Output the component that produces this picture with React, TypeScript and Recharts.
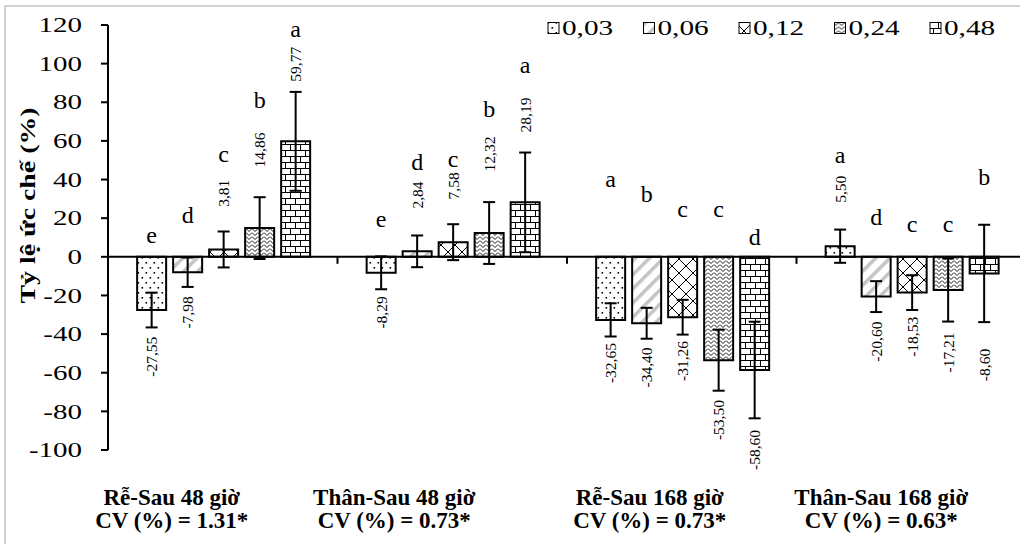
import React from 'react';
import { BarChart, Bar, XAxis, YAxis, ErrorBar, LabelList, ReferenceLine } from 'recharts';

// ---------- data ----------
const categories = ['Rễ-Sau 48 giờ', 'Thân-Sau 48 giờ', 'Rễ-Sau 168 giờ', 'Thân-Sau 168 giờ'];
const cvLabels = ['CV (%) = 1.31*', 'CV (%) = 0.73*', 'CV (%) = 0.73*', 'CV (%) = 0.63*'];
const concentrations = ['0,03', '0,06', '0,12', '0,24', '0,48'];

const s003 = [-27.55, -8.29, -32.65, 5.5];
const s006 = [-7.98, 2.84, -34.4, -20.6];
const s012 = [3.81, 7.58, -31.26, -18.53];
const s024 = [14.86, 12.32, -53.5, -17.21];
const s048 = [59.77, 28.19, -58.6, -8.6];

const e003 = [9.0, 8.5, 8.6, 8.6];
const e006 = [7.6, 8.2, 8.0, 8.0];
const e012 = [9.3, 9.3, 9.0, 9.0];
const e024 = [16.0, 16.0, 15.8, 16.3];
const e048 = [25.6, 25.8, 25.0, 25.2];

const l003 = ['e', 'e', 'a', 'a'];
const l006 = ['d', 'd', 'b', 'd'];
const l012 = ['c', 'c', 'c', 'c'];
const l024 = ['b', 'b', 'c', 'c'];
const l048 = ['a', 'a', 'd', 'b'];

// where the significance letters sit (value on the y axis)
const la003 = [7.1, 15.6, 36.3, 48.4];
const la006 = [17.3, 44.9, 28.5, 16.5];
const la012 = [49.2, 46.6, 20.8, 13.0];
const la024 = [77.0, 72.5, 20.8, 13.0];
const la048 = [113.8, 95.1, 6.1, 37.2];

// where the rotated value labels are centred (value on the y axis)
const va003 = [-51.7, -28.8, -55.0, 35.0];
const va006 = [-28.8, 32.0, -57.3, -43.9];
const va012 = [32.9, 36.7, -53.9, -41.4];
const va024 = [55.3, 53.2, -84.5, -49.5];
const va048 = [99.7, 73.4, -100.0, -56.0];

const yTicks = [-100, -80, -60, -40, -20, 0, 20, 40, 60, 80, 100, 120];

const seriesValues = [s003, s006, s012, s024, s048];
const seriesErrors = [e003, e006, e012, e024, e048];
const seriesLetters = [l003, l006, l012, l024, l048];
const letterAnchors = [la003, la006, la012, la024, la048];
const valueAnchors = [va003, va006, va012, va024, va048];

const data = categories.map((c, i) => {
  const row: any = { category: c };
  seriesValues.forEach((s, k) => {
    row['v' + k] = s[i];
    row['e' + k] = seriesErrors[k][i];
  });
  return row;
});

// ---------- layout constants ----------
const SERIF = '"Liberation Serif", "Times New Roman", serif';
const LABEL_DX = [-51, -58, -32, -30];

const fmt = (v: number) => v.toFixed(2).replace('.', ',');

const Patterns = () => (
  <svg width="0" height="0" style={{ position: 'absolute' }}>
    <defs>
      <pattern id="pat0" width="8" height="10" patternUnits="userSpaceOnUse">
        <rect width="8" height="10" fill="#fff" />
        <rect x="1.5" y="2" width="1.6" height="1.6" fill="#000" />
        <rect x="5.5" y="7" width="1.6" height="1.6" fill="#000" />
      </pattern>
      <pattern id="pat1" width="10" height="10" patternUnits="userSpaceOnUse" patternTransform="rotate(45)">
        <rect width="10" height="10" fill="#fff" />
        <rect x="0" y="0" width="3.5" height="10" fill="#c4c4c4" />
      </pattern>
      <pattern id="pat2" width="14" height="14" patternUnits="userSpaceOnUse">
        <rect width="14" height="14" fill="#fff" />
        <path d="M0 14 L14 0 M0 0 L14 14" stroke="#000" strokeWidth="1" fill="none" />
      </pattern>
      <pattern id="pat3" width="6" height="4" patternUnits="userSpaceOnUse">
        <rect width="6" height="4" fill="#fff" />
        <path d="M0 0.5 L3 3.5 L6 0.5" stroke="#000" strokeWidth="0.9" fill="none" />
      </pattern>
      <pattern id="pat4" width="10" height="12" patternUnits="userSpaceOnUse">
        <rect width="10" height="12" fill="#fff" />
        <path d="M0 0.5 H10 M0 6.5 H10 M0.5 0 V6 M5.5 6 V12" stroke="#000" strokeWidth="1" fill="none" />
      </pattern>
    </defs>
  </svg>
);

const makeAnno = (k: number) => (p: any) => {
  const index = p.index;
  if (index === undefined || index === null) return null;
  const vb = p.viewBox || {};
  const x = Number(vb.x ?? p.x);
  const y = Number(vb.y ?? p.y);
  const w = Number(vb.width ?? p.width);
  const h = Number(vb.height ?? p.height);
  const v = seriesValues[k][index];
  const top = Math.min(y, y + h);
  const bottom = Math.max(y, y + h);
  const zeroY = v >= 0 ? bottom : top;
  const per = (bottom - top) / Math.abs(v);
  const px = (a: number) => zeroY - a * per;
  const cx = x + w / 2;
  const vy = px(valueAnchors[k][index]);
  const ly = px(letterAnchors[k][index]);
  return (
    <g>
      <text
        transform={`translate(${cx},${vy}) rotate(-90)`}
        textAnchor="middle"
        dominantBaseline="central"
        fontFamily={SERIF}
        fontSize={15.5}
        fill="#000"
      >
        {fmt(v)}
      </text>
      <text x={cx} y={ly} textAnchor="middle" fontFamily={SERIF} fontSize={24} fill="#000">
        {seriesLetters[k][index]}
      </text>
    </g>
  );
};

const YTick = (p: any) => (
  <text
    transform={`translate(${p.x},${p.y}) scale(1.38,1)`}
    textAnchor="end"
    dy="0.34em"
    fontFamily={SERIF}
    fontSize={21}
    fill="#000"
  >
    {p.payload.value}
  </text>
);

const CatTick = (p: any) => {
  const i = p.payload?.index ?? p.index ?? 0;
  const cx = p.x + LABEL_DX[i];
  return (
    <g>
      <text x={cx} y={p.y + 55} textAnchor="middle" fontFamily={SERIF} fontWeight="bold" fontSize={23} fill="#000">
        {p.payload.value}
      </text>
      <text x={cx} y={p.y + 78} textAnchor="middle" fontFamily={SERIF} fontWeight="bold" fontSize={23} fill="#000">
        {cvLabels[i]}
      </text>
    </g>
  );
};

const ZeroLine = (p: any) => {
  const { x1, y1, x2, y2 } = p;
  const n = categories.length;
  const ticks = [];
  for (let i = 1; i < n; i++) {
    const tx = x1 + (i * (x2 - x1)) / n;
    ticks.push(<line key={i} x1={tx} x2={tx} y1={y1} y2={y1 + 7} stroke="#000" strokeWidth={2} />);
  }
  return (
    <g>
      <line x1={x1} y1={y1} x2={x2} y2={y2} stroke="#000" strokeWidth={2} />
      {ticks}
    </g>
  );
};

const TitleLabel = (p: any) => {
  const vb = p.viewBox || { y: 25, height: 425 };
  return (
    <text
      transform={`translate(27,${vb.y + vb.height / 2 - 32}) rotate(-90)`}
      textAnchor="middle"
      dominantBaseline="central"
      fontFamily={SERIF}
      fontWeight="bold"
      fontSize={22}
      textLength={196}
      lengthAdjust="spacingAndGlyphs"
      fill="#000"
    >
      Tỷ lệ ức chế (%)
    </text>
  );
};

const LegendBox = () => (
  <svg width={480} height={32} style={{ position: 'absolute', left: 546, top: 10 }}>
    {concentrations.map((c, i) => (
      <g key={c} transform={`translate(${i * 95.5},0)`}>
        <rect x={2} y={12.5} width={11} height={11} fill={`url(#pat${i})`} stroke="#000" strokeWidth={1} />
        <text
          transform="translate(16,25) scale(1.33,1)"
          fontFamily={SERIF}
          fontSize={22}
          fill="#000"
        >
          {c}
        </text>
      </g>
    ))}
  </svg>
);

export default function App() {
  return (
    <div style={{ position: 'relative', width: 1020, height: 544, overflow: 'hidden', background: '#fff' }}>
      <style>{`html,body{margin:0;padding:0;overflow:hidden;background:#fff}`}</style>
      <Patterns />
      <div
        style={{
          position: 'absolute',
          left: 4,
          top: 5,
          width: 2000,
          height: 2000,
          borderLeft: '2px solid #d2d2d2',
          borderTop: '2px solid #d2d2d2',
        }}
      />
      <div style={{ position: 'absolute', left: 0, top: 0 }}>
        <BarChart
          width={1026}
          height={544}
          data={data}
          margin={{ top: 25, right: 0, left: 0, bottom: 0 }}
          barCategoryGap="12.7%"
          barGap={7}
        >
          <XAxis
            dataKey="category"
            axisLine={false}
            tickLine={false}
            tickSize={0}
            tickMargin={0}
            height={94}
            interval={0}
            tick={<CatTick />}
          />
          <YAxis
            domain={[-100, 120]}
            ticks={yTicks}
            width={108}
            interval={0}
            tickSize={7}
            tickMargin={19}
            axisLine={{ stroke: '#000', strokeWidth: 2 }}
            tickLine={{ stroke: '#000', strokeWidth: 2 }}
            tick={<YTick />}
            label={{ content: <TitleLabel /> }}
          />
          {seriesValues.map((_, k) => (
            <Bar
              key={k}
              dataKey={'v' + k}
              name={concentrations[k]}
              fill={`url(#pat${k})`}
              stroke="#000"
              strokeWidth={2}
              isAnimationActive={false}
            >
              <ErrorBar
                dataKey={'e' + k}
                width={6}
                stroke="#000"
                strokeWidth={2}
                direction="y"
                isAnimationActive={false}
              />
              <LabelList dataKey={'v' + k} content={makeAnno(k)} />
            </Bar>
          ))}
          <ReferenceLine y={0} shape={<ZeroLine />} ifOverflow="visible" />
        </BarChart>
      </div>
      <LegendBox />
    </div>
  );
}
